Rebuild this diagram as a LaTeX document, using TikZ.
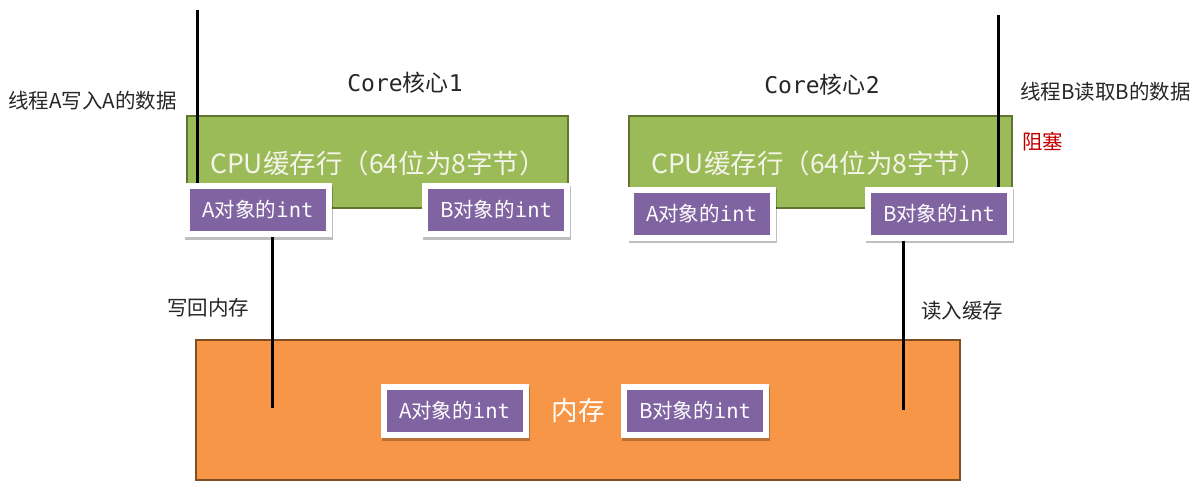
\documentclass[tikz,border=0pt]{standalone}
\usepackage{fontspec}
\setmainfont{Noto Sans CJK SC}
\newfontfamily\mono{DejaVu Sans Mono}
\definecolor{cgreen}{HTML}{9BBB59}
\definecolor{cgreenD}{HTML}{5F7530}
\definecolor{corange}{HTML}{F79646}
\definecolor{corangeD}{HTML}{7F4F24}
\definecolor{cpurple}{HTML}{8064A2}
\definecolor{cred}{HTML}{C00000}
\definecolor{ctext}{HTML}{262626}
\definecolor{clight}{HTML}{F4F4E8}
\begin{document}
\begin{tikzpicture}[x=1pt,y=-1pt,
  cache/.style={rectangle, fill=cgreen, draw=cgreenD, line width=2pt, inner sep=0pt},
  mem/.style={rectangle, fill=corange, draw=corangeD, line width=2pt, inner sep=0pt},
  obj/.style={rectangle, fill=cpurple, draw=white, line width=6pt, minimum width=142pt, minimum height=48pt, inner sep=0pt, text=white, font=\fontsize{20.5}{24}\selectfont,
    preaction={draw=black, fill=black, opacity=0.25, line width=6pt, transform canvas={xshift=1pt, yshift=-2.5pt}}},
  lbl/.style={inner sep=0pt, text=ctext, font=\fontsize{20.5}{24}\selectfont},
  core/.style={inner sep=0pt, text=ctext, font=\fontsize{23}{27}\selectfont},
  big/.style={inner sep=0pt, text=clight, font=\fontsize{26.5}{31}\selectfont},
  conn/.style={line width=3pt, black}]
\useasboundingbox (0,0) rectangle (1201,501);
% boxes
\node[cache, minimum width=381pt, minimum height=92pt] (cache1) at (377.5,162) {};
\node[cache, minimum width=383pt, minimum height=92pt] (cache2) at (820.5,162) {};
\node[mem, minimum width=764pt, minimum height=140pt] (memory) at (578,410) {};
\node[big] (cl1) at (378,163) {CPU缓存行（64位为8字节）};
\node[big] (cl2) at (819,163) {CPU缓存行（64位为8字节）};
\node[big, text=white] (memtxt) at (578,410) {内存};
% objects
\node[obj] (a1) at (258,210) {A对象的{\mono int}};
\node[obj] (b1) at (496,210) {B对象的{\mono int}};
\node[obj] (a2) at (701.5,213.5) {A对象的{\mono int}};
\node[obj] (b2) at (939,213.5) {B对象的{\mono int}};
\node[obj] (am) at (454.5,411) {A对象的{\mono int}};
\node[obj] (bm) at (695,411) {B对象的{\mono int}};
% labels
\node[core] (core1) at (405,83) {{\mono Core}核心{\mono 1}};
\node[core] (core2) at (822,85) {{\mono Core}核心{\mono 2}};
\node[lbl, anchor=west] (ta) at (8,101) {线程A写入A的数据};
\node[lbl, anchor=west] (tb) at (1020,92) {线程B读取B的数据};
\node[lbl, anchor=west, text=cred] (blk) at (1022,142) {阻塞};
\node[lbl, anchor=west] (wb) at (167,308) {写回内存};
\node[lbl, anchor=west] (rd) at (921,311) {读入缓存};
% connectors
\coordinate (topA) at (197,10);
\coordinate (topB) at (998,15);
\coordinate (endA) at (272,408);
\coordinate (endB) at (903,410);
\draw[conn] (topA) -- (topA |- a1.north);
\draw[conn] (endA |- a1.south) -- (endA);
\draw[conn] (topB) -- (topB |- b2.north);
\draw[conn] (endB |- b2.south) -- (endB);
\end{tikzpicture}
\end{document}
